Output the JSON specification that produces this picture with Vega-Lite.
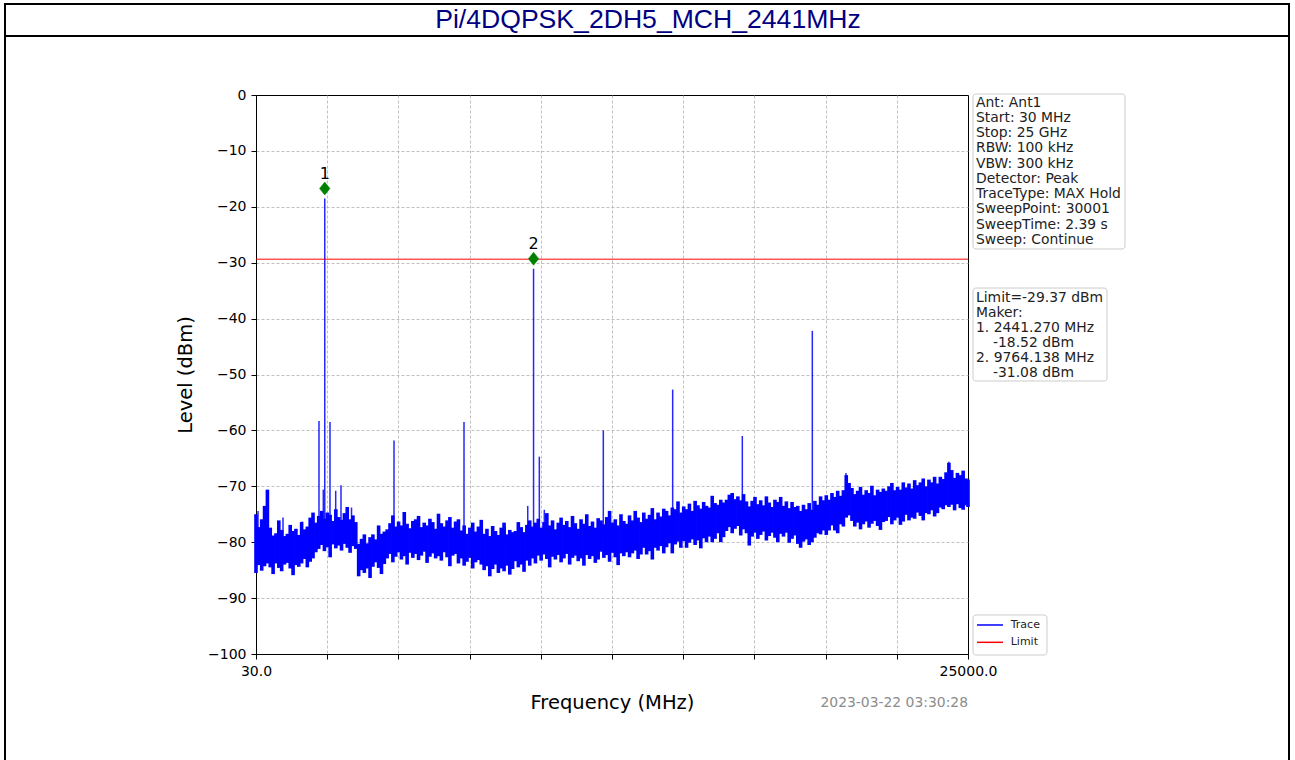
{
  "$schema": "https://vega.github.io/schema/vega-lite/v6.json",
  "width": 712,
  "height": 559,
  "autosize": {"type": "none"},
  "padding": {"left": 256, "top": 95, "right": 327, "bottom": 106},
  "background": "white",
  "config": {
    "view": {"stroke": "black", "strokeWidth": 1},
    "font": "DejaVu Sans",
    "axis": {
      "labelFont": "DejaVu Sans", "labelFontSize": 14, "labelColor": "black",
      "titleFont": "DejaVu Sans", "titleFontSize": 19.5, "titleFontWeight": "normal", "titleColor": "black",
      "domainColor": "black", "tickColor": "black", "tickSize": 5, "labelPadding": 5,
      "grid": true, "gridColor": "#b0b0b0", "gridDash": [3, 2], "gridWidth": 0.8, "labelOverlap": false
    }
  },
  "datasets": {
    "one": [{}],
    "band": [
      {"f":30,"v":-85.5,"v2":-75},{"f":130,"v":-84.1,"v2":-77.3},{"f":230,"v":-85.1,"v2":-75.9},{"f":330,"v":-84.3,"v2":-73.5},{"f":430,"v":-83.8,"v2":-70.6},
      {"f":530,"v":-84.5,"v2":-77.4},{"f":630,"v":-85.7,"v2":-78.8},{"f":730,"v":-83.8,"v2":-78.4},{"f":830,"v":-84.6,"v2":-76.1},{"f":930,"v":-85.2,"v2":-77.8},
      {"f":1030,"v":-84,"v2":-78.9},{"f":1130,"v":-83.7,"v2":-78.5},{"f":1230,"v":-84.7,"v2":-76.9},{"f":1330,"v":-85.9,"v2":-78},{"f":1430,"v":-84.1,"v2":-77.6},
      {"f":1530,"v":-84.4,"v2":-78.7},{"f":1630,"v":-83.8,"v2":-76.4},{"f":1730,"v":-83,"v2":-77.7},{"f":1830,"v":-84.5,"v2":-77.2},{"f":1930,"v":-83.5,"v2":-75.6},
      {"f":2030,"v":-82.9,"v2":-74.7},{"f":2130,"v":-81.8,"v2":-76.5},{"f":2230,"v":-81.2,"v2":-75.3},{"f":2330,"v":-80.5,"v2":-74.4},{"f":2430,"v":-81.6,"v2":-75.8},
      {"f":2530,"v":-80.9,"v2":-74.7},{"f":2630,"v":-82.7,"v2":-75.1},{"f":2730,"v":-80.4,"v2":-76.2},{"f":2830,"v":-81.1,"v2":-74.1},{"f":2930,"v":-80.6,"v2":-75.5},
      {"f":3030,"v":-81.5,"v2":-76},{"f":3130,"v":-80.3,"v2":-74.8},{"f":3230,"v":-81,"v2":-73.7},{"f":3330,"v":-81.9,"v2":-75.9},{"f":3430,"v":-80.7,"v2":-75.2},
      {"f":3530,"v":-81.2,"v2":-76.4},{"f":3630,"v":-86.1,"v2":-80.3},{"f":3730,"v":-85,"v2":-79.4},{"f":3830,"v":-85.5,"v2":-78.6},{"f":3930,"v":-84.7,"v2":-80.2},
      {"f":4030,"v":-86.4,"v2":-79.1},{"f":4130,"v":-84.4,"v2":-78.6},{"f":4230,"v":-83.6,"v2":-79.5},{"f":4330,"v":-84.6,"v2":-77},{"f":4430,"v":-85.7,"v2":-78.5},
      {"f":4530,"v":-83.9,"v2":-78.1},{"f":4630,"v":-82.9,"v2":-77.7},{"f":4730,"v":-82.1,"v2":-76.6},{"f":4830,"v":-83.6,"v2":-75.2},{"f":4930,"v":-82.6,"v2":-77.2},
      {"f":5030,"v":-81.8,"v2":-76.3},{"f":5130,"v":-83.1,"v2":-77},{"f":5230,"v":-82.5,"v2":-74.6},{"f":5330,"v":-84,"v2":-76.7},{"f":5430,"v":-81.9,"v2":-77.5},
      {"f":5530,"v":-82.8,"v2":-76.2},{"f":5630,"v":-82.1,"v2":-75.9},{"f":5730,"v":-83.2,"v2":-75.3},{"f":5830,"v":-82.4,"v2":-77.3},{"f":5930,"v":-81.7,"v2":-76.5},
      {"f":6030,"v":-83.7,"v2":-77},{"f":6130,"v":-82.6,"v2":-75.8},{"f":6230,"v":-82,"v2":-76.4},{"f":6330,"v":-82.9,"v2":-77.6},{"f":6430,"v":-82.5,"v2":-74.9},
      {"f":6530,"v":-83.3,"v2":-76.6},{"f":6630,"v":-81.8,"v2":-77.2},{"f":6730,"v":-82.7,"v2":-76.1},{"f":6830,"v":-84.3,"v2":-75.5},{"f":6930,"v":-82.4,"v2":-77.4},
      {"f":7030,"v":-82.1,"v2":-76.3},{"f":7130,"v":-83.8,"v2":-75.9},{"f":7230,"v":-82.9,"v2":-77.9},{"f":7330,"v":-84.2,"v2":-77},{"f":7430,"v":-83.5,"v2":-78.5},
      {"f":7530,"v":-82.8,"v2":-77.4},{"f":7630,"v":-84.7,"v2":-76.5},{"f":7730,"v":-83.6,"v2":-78.1},{"f":7830,"v":-83.2,"v2":-77.2},{"f":7930,"v":-84,"v2":-76},
      {"f":8030,"v":-85,"v2":-78.5},{"f":8130,"v":-84.3,"v2":-77.6},{"f":8230,"v":-86.1,"v2":-78.9},{"f":8330,"v":-84.8,"v2":-77.1},{"f":8430,"v":-84,"v2":-78},
      {"f":8530,"v":-85.5,"v2":-78.7},{"f":8630,"v":-84.7,"v2":-77.4},{"f":8730,"v":-85.2,"v2":-76.5},{"f":8830,"v":-84.2,"v2":-78.6},{"f":8930,"v":-85.8,"v2":-77.8},
      {"f":9030,"v":-84.8,"v2":-78.2},{"f":9130,"v":-83.4,"v2":-78},{"f":9230,"v":-84.5,"v2":-76.4},{"f":9330,"v":-84,"v2":-77.3},{"f":9430,"v":-85.3,"v2":-78.2},
      {"f":9530,"v":-83.3,"v2":-76.9},{"f":9630,"v":-84.2,"v2":-76.1},{"f":9730,"v":-82.9,"v2":-77.2},{"f":9830,"v":-83.8,"v2":-76.5},{"f":9930,"v":-82.4,"v2":-75.8},
      {"f":10030,"v":-83.3,"v2":-77.4},{"f":10130,"v":-82.2,"v2":-76.4},{"f":10230,"v":-83,"v2":-74.8},{"f":10330,"v":-84.5,"v2":-77},{"f":10430,"v":-82.6,"v2":-76.1},
      {"f":10530,"v":-83.1,"v2":-77.7},{"f":10630,"v":-82.3,"v2":-76.5},{"f":10730,"v":-83.6,"v2":-75.6},{"f":10830,"v":-82.9,"v2":-76.9},{"f":10930,"v":-82.1,"v2":-76.2},
      {"f":11030,"v":-84,"v2":-77.3},{"f":11130,"v":-82.8,"v2":-75.3},{"f":11230,"v":-82.4,"v2":-76.6},{"f":11330,"v":-83.4,"v2":-77.6},{"f":11430,"v":-82.9,"v2":-75.9},
      {"f":11530,"v":-84.2,"v2":-76.7},{"f":11630,"v":-82.3,"v2":-75},{"f":11730,"v":-83,"v2":-77.1},{"f":11830,"v":-82.5,"v2":-76.3},{"f":11930,"v":-83.7,"v2":-77.4},
      {"f":12030,"v":-83.1,"v2":-75.7},{"f":12130,"v":-81.7,"v2":-76.1},{"f":12230,"v":-82.8,"v2":-76.8},{"f":12330,"v":-82.3,"v2":-75.5},{"f":12430,"v":-83.5,"v2":-74.4},
      {"f":12530,"v":-81.9,"v2":-76.5},{"f":12630,"v":-82.7,"v2":-75.9},{"f":12730,"v":-84.1,"v2":-77},{"f":12830,"v":-82,"v2":-75},{"f":12930,"v":-82.5,"v2":-76.2},
      {"f":13030,"v":-81.8,"v2":-76.7},{"f":13130,"v":-82.7,"v2":-75.2},{"f":13230,"v":-82,"v2":-76.1},{"f":13330,"v":-81.5,"v2":-74.4},{"f":13430,"v":-83,"v2":-75.6},
      {"f":13530,"v":-82.2,"v2":-76.4},{"f":13630,"v":-81,"v2":-74.7},{"f":13730,"v":-82.2,"v2":-75.8},{"f":13830,"v":-81.6,"v2":-75.1},{"f":13930,"v":-83.1,"v2":-73.9},
      {"f":14030,"v":-81,"v2":-75.9},{"f":14130,"v":-81.5,"v2":-74.7},{"f":14230,"v":-80.7,"v2":-75.4},{"f":14330,"v":-82,"v2":-74},{"f":14430,"v":-80.9,"v2":-74.4},
      {"f":14530,"v":-80.2,"v2":-75.2},{"f":14630,"v":-82,"v2":-73.8},{"f":14730,"v":-80.4,"v2":-74.1},{"f":14830,"v":-79.9,"v2":-72.7},{"f":14930,"v":-81,"v2":-74.7},
      {"f":15030,"v":-79.8,"v2":-73.6},{"f":15130,"v":-81,"v2":-74.1},{"f":15230,"v":-80.1,"v2":-73.1},{"f":15330,"v":-79.5,"v2":-74.4},{"f":15430,"v":-80.5,"v2":-72.6},
      {"f":15530,"v":-79.7,"v2":-73.4},{"f":15630,"v":-81.1,"v2":-74},{"f":15730,"v":-79.3,"v2":-72.8},{"f":15830,"v":-80,"v2":-73.5},{"f":15930,"v":-79,"v2":-73.8},
      {"f":16030,"v":-80,"v2":-71.7},{"f":16130,"v":-79.4,"v2":-73},{"f":16230,"v":-78.4,"v2":-73.3},{"f":16330,"v":-80,"v2":-72.4},{"f":16430,"v":-79.1,"v2":-72.9},
      {"f":16530,"v":-78,"v2":-72.4},{"f":16630,"v":-77.3,"v2":-71.5},{"f":16730,"v":-78.4,"v2":-71.2},{"f":16830,"v":-77.6,"v2":-72.3},{"f":16930,"v":-77.1,"v2":-71.8},
      {"f":17030,"v":-78.8,"v2":-72.5},{"f":17130,"v":-77.7,"v2":-71.4},{"f":17230,"v":-78.4,"v2":-72.7},{"f":17330,"v":-80.6,"v2":-73.6},{"f":17430,"v":-79,"v2":-72.6},
      {"f":17530,"v":-78.3,"v2":-71.9},{"f":17630,"v":-79.4,"v2":-73.2},{"f":17730,"v":-78.7,"v2":-72.5},{"f":17830,"v":-78.1,"v2":-73.4},{"f":17930,"v":-79.7,"v2":-71.8},
      {"f":18030,"v":-78.9,"v2":-72.9},{"f":18130,"v":-78.3,"v2":-73.7},{"f":18230,"v":-79.2,"v2":-72.4},{"f":18330,"v":-80,"v2":-72.8},{"f":18430,"v":-78.5,"v2":-71.9},
      {"f":18530,"v":-79,"v2":-73.5},{"f":18630,"v":-78.3,"v2":-72.7},{"f":18730,"v":-80.1,"v2":-73.9},{"f":18830,"v":-79.4,"v2":-72.8},{"f":18930,"v":-78.8,"v2":-73.7},
      {"f":19030,"v":-80.3,"v2":-73.5},{"f":19130,"v":-81,"v2":-74.4},{"f":19230,"v":-79.9,"v2":-73.3},{"f":19330,"v":-79.5,"v2":-74.1},{"f":19430,"v":-80.5,"v2":-73},
      {"f":19530,"v":-80,"v2":-74.2},{"f":19630,"v":-79.2,"v2":-72.6},{"f":19730,"v":-78.4,"v2":-73.3},{"f":19830,"v":-78.6,"v2":-71.8},{"f":19930,"v":-77.9,"v2":-72.5},
      {"f":20030,"v":-78.7,"v2":-71.6},{"f":20130,"v":-77.9,"v2":-72.4},{"f":20230,"v":-77,"v2":-71.2},{"f":20330,"v":-77.9,"v2":-71.9},{"f":20430,"v":-78.4,"v2":-70.8},
      {"f":20530,"v":-76.8,"v2":-71.7},{"f":20630,"v":-77.2,"v2":-70.7},{"f":20730,"v":-75.6,"v2":-68},{"f":20830,"v":-75.2,"v2":-69.4},{"f":20930,"v":-76.2,"v2":-70.3},
      {"f":21030,"v":-77.2,"v2":-71.4},{"f":21130,"v":-76.5,"v2":-70.8},{"f":21230,"v":-77.7,"v2":-70.1},{"f":21330,"v":-76.8,"v2":-71.5},{"f":21430,"v":-76.3,"v2":-70.7},
      {"f":21530,"v":-77.4,"v2":-71.2},{"f":21630,"v":-76.7,"v2":-69.9},{"f":21730,"v":-76.2,"v2":-71.6},{"f":21830,"v":-77.1,"v2":-70.6},{"f":21930,"v":-77.8,"v2":-71},
      {"f":22030,"v":-76.4,"v2":-70.4},{"f":22130,"v":-76.2,"v2":-70.8},{"f":22230,"v":-75.5,"v2":-70},{"f":22330,"v":-76.8,"v2":-69.4},{"f":22430,"v":-76.1,"v2":-70.7},
      {"f":22530,"v":-75.6,"v2":-70.1},{"f":22630,"v":-76.9,"v2":-70.6},{"f":22730,"v":-76.3,"v2":-69.3},{"f":22830,"v":-75.1,"v2":-70.2},{"f":22930,"v":-76.1,"v2":-69.5},
      {"f":23030,"v":-75.6,"v2":-70.4},{"f":23130,"v":-75.8,"v2":-68.9},{"f":23230,"v":-74.7,"v2":-69.8},{"f":23330,"v":-75.3,"v2":-69.3},{"f":23430,"v":-76.1,"v2":-68.6},
      {"f":23530,"v":-74.8,"v2":-70},{"f":23630,"v":-75,"v2":-68.8},{"f":23730,"v":-74.3,"v2":-69.3},{"f":23830,"v":-75.4,"v2":-68.3},{"f":23930,"v":-74.8,"v2":-69.5},
      {"f":24030,"v":-73.8,"v2":-68.3},{"f":24130,"v":-74.1,"v2":-68.7},{"f":24230,"v":-73.4,"v2":-67.5},{"f":24330,"v":-73.7,"v2":-65.8},{"f":24430,"v":-73.3,"v2":-67.1},
      {"f":24530,"v":-74.3,"v2":-68.5},{"f":24630,"v":-73.2,"v2":-67.6},{"f":24730,"v":-73.9,"v2":-68},{"f":24830,"v":-74.2,"v2":-67.2},{"f":24930,"v":-73.4,"v2":-68.6},
      {"f":25000,"v":-73.7,"v2":-68.8}
    ],
    "spikes": [
      {"f":100,"v":-80,"v2":-74.4},{"f":977,"v":-81,"v2":-75.6},{"f":1650,"v":-80,"v2":-76.3},
      {"f":2239,"v":-79,"v2":-58.3},{"f":2390,"v":-78,"v2":-70.6},{"f":2441.27,"v":-78,"v2":-18.52},
      {"f":2625,"v":-78,"v2":-58.5},{"f":2825,"v":-78,"v2":-70.8},{"f":3011,"v":-78,"v2":-69.8},
      {"f":3380,"v":-78,"v2":-73.8},{"f":4870,"v":-80,"v2":-61.8},{"f":5747,"v":-80,"v2":-75.3},
      {"f":7325,"v":-80,"v2":-58.5},{"f":8770,"v":-81,"v2":-77.3},{"f":9560,"v":-80,"v2":-73.5},
      {"f":9764.138,"v":-80,"v2":-31.08},{"f":9966,"v":-80,"v2":-64.7},{"f":10141,"v":-80,"v2":-74.2},
      {"f":12210,"v":-79,"v2":-60},{"f":14643,"v":-77,"v2":-52.7},{"f":17085,"v":-75,"v2":-61},
      {"f":19540,"v":-77,"v2":-42.2},{"f":20720,"v":-73,"v2":-67.6},{"f":24330,"v":-71,"v2":-65.6}
    ],
    "markers": [
      {"f":2441.27,"v":-18.52,"n":"1"},
      {"f":9764.138,"v":-31.08,"n":"2"}
    ],
    "limit": [{"v":-29.37}]
  },
  "layer": [
    {
      "data": {"name": "one"},
      "mark": {"type": "rect", "filled": false, "stroke": "black", "strokeWidth": 2},
      "encoding": {
        "x": {"datum": -8772.6}, "x2": {"datum": 36257.5},
        "y": {"datum": 16.28}, "y2": {"datum": -122.5}
      }
    },
    {
      "data": {"name": "one"},
      "mark": {"type": "rule", "stroke": "black", "strokeWidth": 2},
      "encoding": {
        "x": {"datum": -8772.6}, "x2": {"datum": 36257.5},
        "y": {"datum": 10.55}
      }
    },
    {
      "data": {"name": "one"},
      "mark": {"type": "text", "font": "Liberation Sans", "fontSize": 26.6, "fill": "#000080", "align": "center", "baseline": "middle"},
      "encoding": {
        "x": {"datum": 13777.5}, "y": {"datum": 13.42},
        "text": {"value": "Pi/4DQPSK_2DH5_MCH_2441MHz"}
      }
    },
    {
      "data": {"name": "band"},
      "mark": {"type": "rule", "strokeWidth": 3.6},
      "encoding": {
        "x": {
          "field": "f", "type": "quantitative",
          "scale": {"domain": [30, 25000], "nice": false, "zero": false},
          "axis": {
            "title": "Frequency (MHz)", "titlePadding": 15, "labelFlush": false, "grid": true,
            "gridOpacity": {"condition": {"test": "datum.value == 30 || datum.value == 25000", "value": 0}, "value": 1},
            "values": [30, 2527, 5024, 7521, 10018, 12515, 15012, 17509, 20006, 22503, 25000],
            "labelExpr": "datum.value == 30 || datum.value == 25000 ? format(datum.value, '.1f') : ''"
          }
        },
        "y": {
          "field": "v", "type": "quantitative",
          "scale": {"domain": [-100, 0], "nice": false, "zero": false},
          "axis": {
            "title": "Level (dBm)", "titlePadding": 12, "grid": true,
            "gridOpacity": {"condition": {"test": "datum.value == 0 || datum.value == -100", "value": 0}, "value": 1},
            "values": [-100, -90, -80, -70, -60, -50, -40, -30, -20, -10, 0],
            "labelExpr": "replace(format(datum.value, 'd'), '-', '−')"
          }
        },
        "y2": {"field": "v2"},
        "color": {
          "datum": "Trace",
          "scale": {"domain": ["Trace", "Limit"], "range": ["#0000ff", "#ff0000"]},
          "legend": null
        }
      }
    },
    {
      "data": {"name": "spikes"},
      "mark": {"type": "rule", "strokeWidth": 1.5, "opacity": 0.85},
      "encoding": {
        "x": {"field": "f", "type": "quantitative"},
        "y": {"field": "v", "type": "quantitative"},
        "y2": {"field": "v2"},
        "color": {"datum": "Trace"}
      }
    },
    {
      "data": {"name": "limit"},
      "mark": {"type": "rule", "strokeWidth": 1},
      "encoding": {
        "y": {"field": "v", "type": "quantitative"},
        "color": {"datum": "Limit"}
      }
    },
    {
      "data": {"name": "markers"},
      "mark": {"type": "point", "shape": "M0,-1L0.8,0L0,1L-0.8,0Z", "filled": true, "fill": "#008000", "stroke": "#008000", "strokeWidth": 0.5, "size": 169, "opacity": 1, "yOffset": -10},
      "encoding": {
        "x": {"field": "f", "type": "quantitative"},
        "y": {"field": "v", "type": "quantitative"}
      }
    },
    {
      "data": {"name": "markers"},
      "mark": {"type": "text", "font": "DejaVu Sans", "fontSize": 16, "fill": "black", "align": "center", "baseline": "middle", "yOffset": -25},
      "encoding": {
        "x": {"field": "f", "type": "quantitative"},
        "y": {"field": "v", "type": "quantitative"},
        "text": {"field": "n"}
      }
    },
    {
      "data": {"name": "one"},
      "mark": {"type": "rect", "fill": "white", "stroke": "#cccccc", "strokeWidth": 1, "cornerRadius": 3},
      "encoding": {
        "x": {"datum": 25175}, "x2": {"datum": 30506},
        "y": {"datum": 0.18}, "y2": {"datum": -27.55}
      }
    },
    {
      "data": {"name": "one"},
      "mark": {"type": "rect", "fill": "white", "stroke": "#cccccc", "strokeWidth": 1, "cornerRadius": 3},
      "encoding": {
        "x": {"datum": 25175}, "x2": {"datum": 29874.7},
        "y": {"datum": -34.53}, "y2": {"datum": -51.16}
      }
    },
    {
      "data": {"name": "one"},
      "mark": {"type": "rect", "fill": "white", "stroke": "#cccccc", "strokeWidth": 1, "cornerRadius": 3},
      "encoding": {
        "x": {"datum": 25175}, "x2": {"datum": 27770.5},
        "y": {"datum": -93.02}, "y2": {"datum": -100.18}
      }
    },
    {
      "data": {"name": "one"},
      "mark": {"type": "rule", "stroke": "#0000ff", "strokeWidth": 1.5},
      "encoding": {
        "x": {"datum": 25315.6}, "x2": {"datum": 26227.4},
        "y": {"datum": -94.81}
      }
    },
    {
      "data": {"name": "one"},
      "mark": {"type": "rule", "stroke": "#ff0000", "strokeWidth": 1.5},
      "encoding": {
        "x": {"datum": 25315.6}, "x2": {"datum": 26227.4},
        "y": {"datum": -97.91}
      }
    },
    {
      "data": {"name": "one"},
      "mark": {"type": "text", "font": "DejaVu Sans", "fontSize": 11, "fill": "#222222", "align": "left", "baseline": "middle"},
      "encoding": {
        "x": {"datum": 26497.9}, "y": {"datum": -94.81},
        "text": {"value": "Trace"}
      }
    },
    {
      "data": {"name": "one"},
      "mark": {"type": "text", "font": "DejaVu Sans", "fontSize": 11, "fill": "#222222", "align": "left", "baseline": "middle"},
      "encoding": {
        "x": {"datum": 26497.9}, "y": {"datum": -97.91},
        "text": {"value": "Limit"}
      }
    },
    {
      "data": {"name": "one"},
      "mark": {"type": "text", "font": "DejaVu Sans", "fontSize": 13.9, "fill": "#222222", "align": "left", "baseline": "alphabetic", "lineHeight": 15.26},
      "encoding": {
        "x": {"datum": 25280.5}, "y": {"datum": -2.09},
        "text": {"value": ["Ant: Ant1", "Start: 30 MHz", "Stop: 25 GHz", "RBW: 100 kHz", "VBW: 300 kHz", "Detector: Peak", "TraceType: MAX Hold", "SweepPoint: 30001", "SweepTime: 2.39 s", "Sweep: Continue"]}
      }
    },
    {
      "data": {"name": "one"},
      "mark": {"type": "text", "font": "DejaVu Sans", "fontSize": 13.9, "fill": "#222222", "align": "left", "baseline": "alphabetic", "lineHeight": 15.0},
      "encoding": {
        "x": {"datum": 25280.5}, "y": {"datum": -36.98},
        "text": {"value": ["Limit=-29.37 dBm", "Maker:", "1. 2441.270 MHz"]}
      }
    },
    {
      "data": {"name": "one"},
      "mark": {"type": "text", "font": "DejaVu Sans", "fontSize": 13.9, "fill": "#222222", "align": "left", "baseline": "alphabetic", "dx": 17},
      "encoding": {
        "x": {"datum": 25280.5}, "y": {"datum": -45.03},
        "text": {"value": "-18.52 dBm"}
      }
    },
    {
      "data": {"name": "one"},
      "mark": {"type": "text", "font": "DejaVu Sans", "fontSize": 13.9, "fill": "#222222", "align": "left", "baseline": "alphabetic"},
      "encoding": {
        "x": {"datum": 25280.5}, "y": {"datum": -47.71},
        "text": {"value": "2. 9764.138 MHz"}
      }
    },
    {
      "data": {"name": "one"},
      "mark": {"type": "text", "font": "DejaVu Sans", "fontSize": 13.9, "fill": "#222222", "align": "left", "baseline": "alphabetic", "dx": 17},
      "encoding": {
        "x": {"datum": 25280.5}, "y": {"datum": -50.39},
        "text": {"value": "-31.08 dBm"}
      }
    },
    {
      "data": {"name": "one"},
      "mark": {"type": "text", "font": "DejaVu Sans", "fontSize": 13.9, "fill": "#8c8c8c", "align": "right", "baseline": "middle"},
      "encoding": {
        "x": {"datum": 25000}, "y": {"datum": -108.77},
        "text": {"value": "2023-03-22 03:30:28"}
      }
    }
  ]
}
